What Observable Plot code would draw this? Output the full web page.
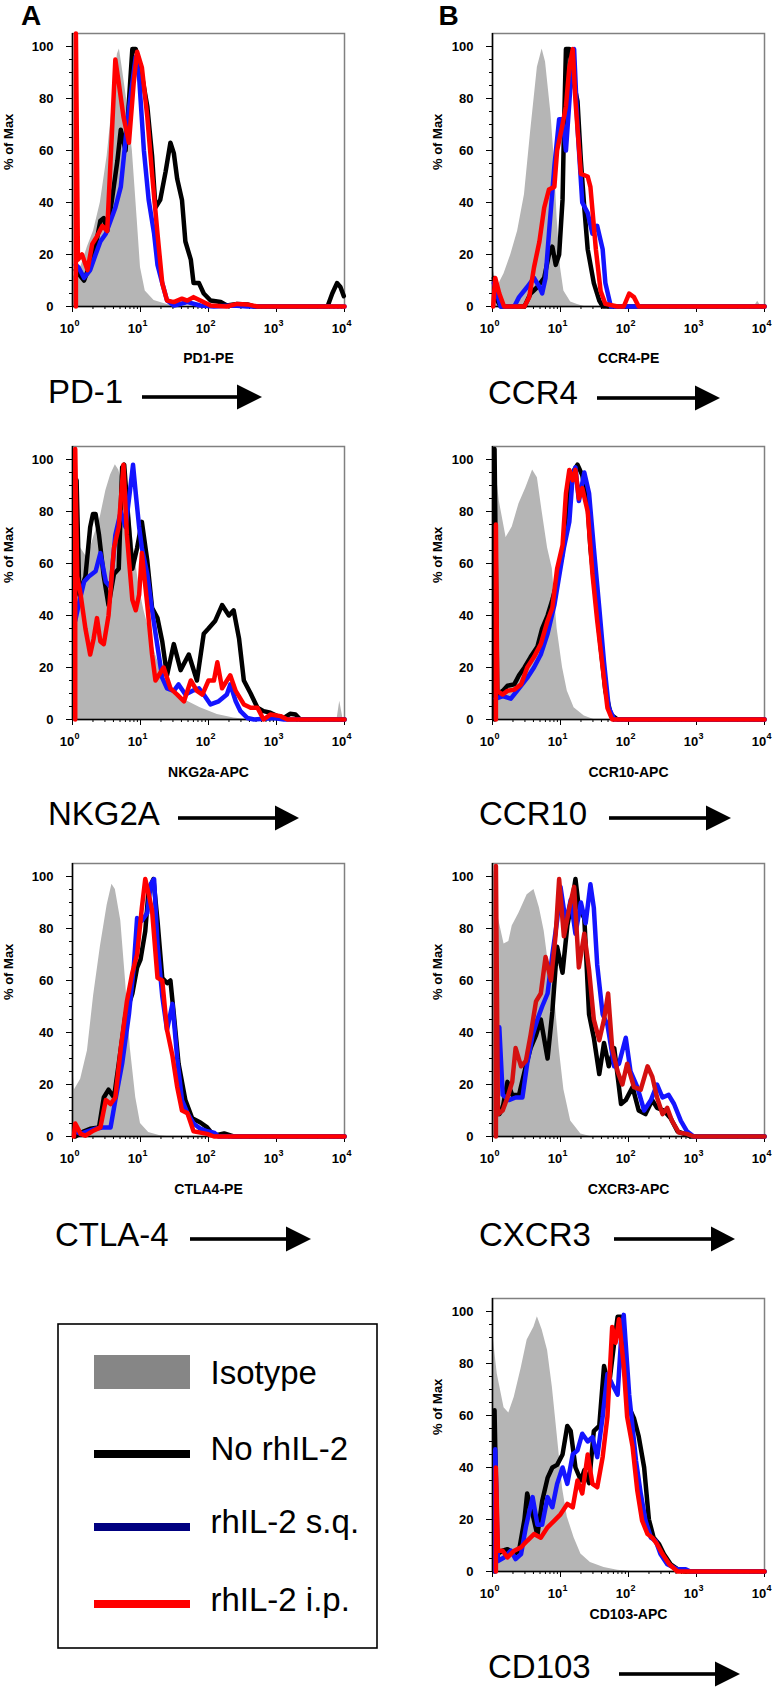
<!DOCTYPE html>
<html>
<head>
<meta charset="utf-8">
<script src="https://cdn.jsdelivr.net/npm/d3@7"></script>
<script src="https://cdn.jsdelivr.net/npm/@observablehq/plot@0.6"></script>
<style>
  html, body { margin: 0; padding: 0; background: #fff; }
  #fig { position: relative; width: 774px; height: 1687px; overflow: hidden; background: #fff; }
</style>
</head>
<body>
<div id="fig"></div>
<script>
// ---------------- DATA: [log10 fluorescence intensity, % of Max] ----------------
const seriesNames = ["Isotype", "No rhIL-2", "rhIL-2 s.q.", "rhIL-2 i.p."];
const markers = ["PD-1", "CCR4", "NKG2A", "CCR10", "CTLA-4", "CXCR3", "CD103"];
const channels = ["PD1-PE", "CCR4-PE", "NKG2a-APC", "CCR10-APC", "CTLA4-PE", "CXCR3-APC", "CD103-APC"];
const xTickExponents = [0, 1, 2, 3, 4];
const yTickValues = [0, 20, 40, 60, 80, 100];

// PD-1
const pd1Isotype = [[0,11],[0.12,15],[0.22,23],[0.31,29],[0.41,40],[0.51,58],[0.58,76],[0.66,97],[0.69,99],[0.73,92],[0.80,79],[0.88,60],[0.95,34],[1.0,15],[1.07,6],[1.2,2.3],[1.39,0.8],[1.59,0],[4,0]];
const pd1NoIL2 = [[0.05,14],[0.09,12.6],[0.17,10],[0.24,15],[0.31,19],[0.41,33],[0.46,34],[0.51,29],[0.58,41],[0.66,56],[0.71,68],[0.78,60],[0.83,79],[0.88,99],[0.93,99],[1.0,92],[1.1,77],[1.17,58],[1.22,38],[1.29,41],[1.37,52],[1.44,63],[1.49,59],[1.54,49],[1.61,41],[1.66,25],[1.74,18],[1.78,9],[1.86,9],[1.93,5],[2.03,2.3],[2.18,1.7],[2.27,0.4],[2.42,1],[2.57,0.8],[2.67,0],[3.75,0],[3.82,5],[3.89,9],[3.94,7.5],[3.99,4]];
const pd1SQ = [[0.05,16],[0.09,15],[0.17,11],[0.26,14],[0.34,20],[0.41,25],[0.49,28],[0.56,33],[0.63,38],[0.71,46],[0.78,64],[0.83,76],[0.88,86],[0.93,96],[0.98,88],[1.05,60],[1.12,41],[1.2,28],[1.25,16],[1.32,9],[1.39,2.3],[1.49,0.4],[1.69,1.7],[1.88,0.4],[2.08,0],[2.37,0.4],[2.57,0],[4,0]];
const pd1IP = [[0.05,0],[0.05,105],[0.08,18],[0.14,20],[0.22,14],[0.29,24],[0.36,27],[0.44,31],[0.51,29],[0.58,67],[0.63,95],[0.68,86],[0.75,73],[0.83,63],[0.9,86],[0.95,98],[1.02,92],[1.1,73],[1.17,51],[1.25,28],[1.32,9],[1.39,2.3],[1.49,1.7],[1.61,3],[1.69,2.3],[1.78,3.6],[1.88,2.3],[2.03,0.4],[2.27,0],[2.42,1],[2.57,0.8],[2.72,0],[4,0]];

// CCR4
const ccr4Isotype = [[0,15],[0.03,12],[0.07,7.5],[0.17,12.6],[0.27,20],[0.37,29],[0.47,43],[0.56,67],[0.66,92],[0.73,99],[0.78,94],[0.86,74],[0.91,56],[0.95,34],[1.0,15],[1.05,6],[1.15,1.7],[1.25,0.8],[1.35,0],[3.85,0],[3.9,2],[3.95,0],[4,0]];
const ccr4NoIL2 = [[0.02,11],[0.07,2.3],[0.12,0],[0.47,0],[0.56,5],[0.66,7.5],[0.76,11],[0.83,20],[0.88,23],[0.93,16],[0.98,20],[1.03,41],[1.05,67],[1.08,99],[1.13,99],[1.18,88],[1.25,79],[1.3,56],[1.35,38],[1.4,22],[1.49,9],[1.57,2.3],[1.62,0],[4,0]];
const ccr4SQ = [[0.02,9],[0.12,0],[0.32,0],[0.39,3.6],[0.51,7.5],[0.61,11],[0.69,7.5],[0.73,5],[0.78,11],[0.83,28],[0.91,54],[0.98,72],[1.03,72],[1.08,60],[1.15,86],[1.2,99],[1.25,69],[1.32,40],[1.4,36],[1.47,28],[1.54,31],[1.62,22],[1.66,9],[1.74,0],[4,0]];
const ccr4IP = [[0.01,0],[0.04,11],[0.1,5],[0.17,0],[0.47,0],[0.54,3.6],[0.61,15],[0.69,25],[0.76,38],[0.83,45],[0.91,46],[0.95,60],[1.03,70],[1.08,77],[1.13,92],[1.18,99],[1.22,79],[1.3,51],[1.4,50],[1.44,46],[1.52,22],[1.59,6],[1.66,1],[1.84,0],[1.93,0],[2.01,5],[2.08,3.6],[2.15,0],[4,0]];

// NKG2A
const nkg2aIsotype = [[0,74],[0.12,66],[0.22,62],[0.31,70],[0.41,78],[0.49,88],[0.56,94],[0.63,98],[0.68,96],[0.75,89],[0.83,84],[0.9,66],[0.98,51],[1.05,42],[1.12,35],[1.22,25],[1.34,16],[1.49,11],[1.69,7],[1.88,4.5],[2.13,1.9],[2.37,0.6],[2.57,0],[3.89,0],[3.93,7],[3.98,0],[4,0]];
const nkg2aNoIL2 = [[0.06,92],[0.1,48],[0.19,55],[0.26,74],[0.3,79],[0.34,79],[0.39,71],[0.46,55],[0.53,44],[0.61,56],[0.68,58],[0.73,97],[0.76,98],[0.8,84],[0.88,58],[0.95,66],[1.02,76],[1.1,61],[1.17,43],[1.25,39],[1.32,30],[1.39,17],[1.49,29],[1.59,19],[1.71,25],[1.83,15],[1.93,33],[2.0,35],[2.1,38],[2.2,44],[2.3,40],[2.37,42],[2.45,31],[2.52,15],[2.62,10],[2.72,4.5],[2.81,3.2],[2.91,2.6],[3.01,1.3],[3.11,0.6],[3.2,2.2],[3.28,1.9],[3.35,0],[4,0]];
const nkg2aSQ = [[0.04,38],[0.09,44],[0.17,53],[0.24,55],[0.34,57],[0.41,64],[0.49,53],[0.56,51],[0.63,71],[0.71,80],[0.78,74],[0.85,89],[0.89,98],[0.93,87],[0.98,74],[1.02,66],[1.1,56],[1.17,42],[1.25,28],[1.32,16],[1.39,12],[1.49,11],[1.56,13.5],[1.66,9.6],[1.76,11],[1.86,12],[1.93,9.6],[2.03,5.8],[2.15,7],[2.27,9.6],[2.32,13.5],[2.4,7],[2.47,3.2],[2.57,0.6],[2.67,0],[2.96,0.6],[3.11,0],[4,0]];
const nkg2aIP = [[0.04,0],[0.04,104],[0.07,55],[0.12,48],[0.19,35],[0.26,25],[0.31,31],[0.36,39],[0.41,30],[0.46,29],[0.53,40],[0.61,66],[0.68,74],[0.75,98],[0.8,71],[0.88,46],[0.93,42],[0.98,48],[1.02,64],[1.1,44],[1.17,25],[1.22,15],[1.34,20],[1.44,12],[1.54,9.6],[1.64,7],[1.74,15],[1.83,11],[1.91,9.6],[2.0,15],[2.08,15],[2.13,22],[2.2,12],[2.32,17],[2.4,11],[2.52,5.8],[2.62,4.5],[2.72,4.5],[2.81,0],[2.91,1.9],[3.06,1.3],[3.16,0],[4,0]];

// CCR10
const ccr10Isotype = [[0,103],[0.02,103],[0.1,84],[0.2,70],[0.29,74],[0.39,83],[0.49,89],[0.59,96],[0.66,93],[0.73,80],[0.81,66],[0.88,58],[0.95,35],[1.03,20],[1.1,11],[1.2,4.5],[1.35,1.3],[1.49,0],[4,0]];
const ccr10NoIL2 = [[0.03,0],[0.03,104],[0.07,9.6],[0.15,11],[0.22,13],[0.32,13.5],[0.39,17],[0.47,20],[0.56,24],[0.66,28],[0.73,35],[0.81,40],[0.88,46],[0.95,53],[1.03,64],[1.1,84],[1.18,95],[1.25,98],[1.32,94],[1.4,82],[1.44,66],[1.52,46],[1.59,28],[1.66,11],[1.74,1.9],[1.84,0],[4,0]];
const ccr10SQ = [[0.05,8],[0.15,9],[0.27,8],[0.39,12],[0.51,16],[0.61,20],[0.71,25],[0.81,33],[0.91,44],[0.98,55],[1.05,66],[1.13,76],[1.18,94],[1.22,97],[1.27,84],[1.35,95],[1.42,87],[1.49,66],[1.57,43],[1.64,22],[1.71,4.5],[1.79,0],[4,0]];
const ccr10IP = [[0.05,0],[0.05,75],[0.07,11],[0.15,9.6],[0.22,11],[0.32,11.5],[0.42,13.5],[0.51,20],[0.61,24],[0.71,29],[0.81,38],[0.88,43],[0.95,58],[1.03,67],[1.08,87],[1.13,96],[1.18,92],[1.22,96],[1.27,85],[1.32,89],[1.4,80],[1.47,56],[1.54,38],[1.62,20],[1.69,4.5],[1.76,0],[4,0]];

// CTLA-4
const ctla4Isotype = [[0,28],[0.03,18],[0.12,22],[0.22,33],[0.31,54],[0.41,73],[0.51,89],[0.58,97],[0.63,95],[0.71,83],[0.78,60],[0.85,34],[0.93,15],[1.0,5],[1.12,1.5],[1.29,0.3],[1.39,0],[4,0]];
const ctla4NoIL2 = [[0.04,0],[0.17,2],[0.26,3],[0.39,3.5],[0.46,15],[0.53,18],[0.61,15],[0.68,28],[0.78,47],[0.88,55],[0.95,65],[1.0,68],[1.07,79],[1.12,95],[1.19,99],[1.25,83],[1.32,61],[1.39,59],[1.44,60],[1.49,47],[1.56,28],[1.66,14],[1.76,7],[1.88,5.4],[1.98,3.5],[2.08,0.3],[2.23,1.2],[2.37,0],[4,0]];
const ctla4SQ = [[0.04,2],[0.12,1],[0.22,2],[0.34,3],[0.46,3.5],[0.56,3.5],[0.63,14],[0.73,28],[0.83,47],[0.9,65],[0.95,84],[1.02,83],[1.1,86],[1.15,97],[1.2,99],[1.25,74],[1.32,54],[1.39,41],[1.47,51],[1.54,30],[1.61,14],[1.69,9],[1.78,5],[1.88,3],[1.98,2],[2.08,1.5],[2.15,0],[4,0]];
const ctla4IP = [[0.02,0],[0.04,5],[0.12,1],[0.19,0.3],[0.29,2],[0.41,3.5],[0.49,14],[0.56,12.5],[0.63,15],[0.71,34],[0.8,52],[0.88,63],[0.95,70],[1.02,88],[1.07,99],[1.13,92],[1.17,87],[1.25,61],[1.32,60],[1.39,41],[1.47,31],[1.54,19],[1.61,10],[1.69,9],[1.78,2],[1.88,1.5],[1.98,1],[2.08,0],[4,0]];

// CXCR3
const cxcr3Isotype = [[0,102],[0.02,102],[0.07,86],[0.17,74],[0.24,75],[0.29,81],[0.39,86],[0.51,93],[0.61,95],[0.69,88],[0.76,79],[0.83,65],[0.91,55],[0.98,34],[1.05,18],[1.15,6],[1.3,1],[1.44,0],[4,0]];
const cxcr3NoIL2 = [[0.08,12],[0.1,8.6],[0.15,11],[0.22,21],[0.29,16],[0.39,16],[0.49,27],[0.56,34],[0.64,39],[0.71,45],[0.81,30],[0.88,48],[0.95,73],[1.03,63],[1.1,81],[1.18,92],[1.22,99],[1.27,88],[1.35,84],[1.42,47],[1.49,38],[1.57,24],[1.64,36],[1.71,27],[1.79,34],[1.89,12.5],[1.96,14],[2.06,19],[2.15,10],[2.25,8.6],[2.35,14],[2.42,11],[2.52,10],[2.62,7],[2.72,2],[2.82,1],[2.91,0],[4,0]];
const cxcr3SQ = [[0.1,42],[0.15,16],[0.24,14],[0.34,15],[0.44,15],[0.51,28],[0.59,39],[0.66,45],[0.73,50],[0.81,55],[0.88,70],[0.95,83],[1.0,96],[1.08,82],[1.15,91],[1.22,78],[1.3,90],[1.37,82],[1.44,97],[1.49,88],[1.54,66],[1.62,47],[1.69,43],[1.79,27],[1.86,28],[1.96,38],[2.03,25],[2.13,19],[2.23,10],[2.33,14],[2.42,20],[2.5,15],[2.59,16],[2.67,12.5],[2.77,6],[2.86,2],[2.96,0],[4,0]];
const cxcr3IP = [[0.05,0],[0.05,104],[0.08,8.6],[0.15,10],[0.22,15],[0.29,21],[0.34,34],[0.42,27],[0.49,29],[0.56,39],[0.64,52],[0.71,55],[0.78,69],[0.86,60],[0.93,78],[0.98,99],[1.05,77],[1.13,88],[1.2,96],[1.27,65],[1.35,78],[1.42,64],[1.49,45],[1.57,37],[1.64,45],[1.7,55],[1.76,34],[1.84,25],[1.91,20],[1.98,28],[2.08,19],[2.18,18],[2.28,27],[2.35,23],[2.42,15],[2.5,8.6],[2.57,11],[2.64,6],[2.74,1.5],[2.86,1],[2.96,0],[4,0]];

// CD103
const cd103Isotype = [[0,90],[0.01,90],[0.07,76],[0.17,63],[0.24,61],[0.32,67],[0.42,78],[0.51,89],[0.61,94],[0.66,98],[0.73,93],[0.81,85],[0.88,71],[0.95,53],[1.03,32],[1.1,21],[1.2,13],[1.3,6.7],[1.44,3.5],[1.64,1.5],[1.84,0.5],[2.03,0],[4,0]];
const cd103NoIL2 = [[0.03,0],[0.03,62],[0.07,6.7],[0.15,8],[0.22,8.6],[0.32,6.7],[0.39,8],[0.47,20],[0.51,30],[0.59,22],[0.66,14],[0.73,27],[0.81,36],[0.88,40],[0.95,41],[1.03,45],[1.1,56],[1.15,54],[1.22,40],[1.3,35],[1.35,39],[1.42,34],[1.49,54],[1.57,56],[1.64,79],[1.71,71],[1.79,88],[1.84,98],[1.89,98],[1.93,79],[2.01,63],[2.08,59],[2.15,52],[2.23,40],[2.3,20],[2.37,13],[2.45,10.5],[2.52,6.7],[2.62,2.8],[2.72,0.9],[2.82,0],[4,0]];
const cd103SQ = [[0.04,0],[0.04,47],[0.08,4],[0.17,5.4],[0.27,8],[0.34,4.8],[0.42,6.7],[0.49,17],[0.59,28.6],[0.66,18],[0.73,18],[0.81,28.6],[0.88,24.7],[0.95,33.7],[1.03,40],[1.1,33.7],[1.18,45],[1.25,46.6],[1.32,53],[1.4,50],[1.47,51.7],[1.54,44],[1.62,59.5],[1.69,76],[1.76,72],[1.84,68],[1.89,89],[1.93,98.7],[2.01,68],[2.11,42.7],[2.18,30],[2.25,19.6],[2.33,13],[2.4,11.8],[2.47,6.7],[2.57,2.8],[2.72,0.9],[2.84,0.9],[2.91,0],[4,0]];
const cd103IP = [[0.05,0],[0.05,40],[0.08,8],[0.15,8],[0.22,5.4],[0.32,8],[0.42,9.3],[0.51,11.8],[0.61,14.4],[0.71,13],[0.81,17],[0.91,19.6],[1.0,22],[1.1,26],[1.18,24.7],[1.25,35],[1.32,30],[1.4,45],[1.47,33.7],[1.54,32.4],[1.62,44],[1.69,59.5],[1.76,94],[1.81,88],[1.86,97],[1.93,79],[1.98,59.5],[2.06,48],[2.13,31],[2.2,19.6],[2.28,14.4],[2.35,13],[2.42,10.5],[2.5,6.7],[2.6,2.8],[2.72,0],[4,0]];

// ---------------- STYLE / LAYOUT ----------------
const FONT = "'Liberation Sans', Arial, Helvetica, sans-serif";
const isoFill = "#b5b5b5";
const lineColors = ["#000000", "#1414ff", "#ff0000"];
const legendColors = ["#868686", "#000000", "#000080", "#ff0000"];

const panelSeries = [
  [pd1Isotype, pd1NoIL2, pd1SQ, pd1IP],
  [ccr4Isotype, ccr4NoIL2, ccr4SQ, ccr4IP],
  [nkg2aIsotype, nkg2aNoIL2, nkg2aSQ, nkg2aIP],
  [ccr10Isotype, ccr10NoIL2, ccr10SQ, ccr10IP],
  [ctla4Isotype, ctla4NoIL2, ctla4SQ, ctla4IP],
  [cxcr3Isotype, cxcr3NoIL2, cxcr3SQ, cxcr3IP],
  [cd103Isotype, cd103NoIL2, cd103SQ, cd103IP]
];
const panelLayout = [
  {col: 0, top: 33,   xlab: 56, mark: {x: 48,  y: 403,  arrow: [142, 237, 262, 397]}},
  {col: 1, top: 33,   xlab: 56, mark: {x: 488, y: 404,  arrow: [597, 695, 720, 398]}},
  {col: 0, top: 446,  xlab: 57, mark: {x: 48,  y: 825,  arrow: [178, 275, 299, 818]}},
  {col: 1, top: 446,  xlab: 57, mark: {x: 479, y: 825,  arrow: [609, 706, 731, 818]}},
  {col: 0, top: 863,  xlab: 57, mark: {x: 55,  y: 1246, arrow: [190, 286, 311, 1239]}},
  {col: 1, top: 863,  xlab: 57, mark: {x: 479, y: 1246, arrow: [614, 711, 735, 1239]}},
  {col: 1, top: 1298, xlab: 47, mark: {x: 488, y: 1678, arrow: [619, 715, 740, 1674]}}
];
const redOverride = {5: "#d41010"};

const fig = document.getElementById("fig");
const sup = {0: "0", 1: "1", 2: "2", 3: "3", 4: "4"};
const majorX = xTickExponents.map(e => 10 ** e);
const minorX = d3.range(0, 4).flatMap(e => d3.range(2, 10).map(k => k * 10 ** e));
const minorY = d3.range(0, 101, 5);
const PH = 273, MT = 12, MB = 62;
const LW = 4.5;
const lx = d => 10 ** d[0];
const ly = d => d[1];

panelSeries.forEach((series, i) => {
  const L = panelLayout[i];
  const left = L.col === 0 ? 0 : 390;
  const W = L.col === 0 ? 390 : 384;
  const ml = L.col === 0 ? 72 : 102;
  const mr = L.col === 0 ? 46 : 10;
  const ylabDx = L.col === 0 ? -64 : -55;
  const colors = lineColors.slice();
  if (redOverride[i]) colors[2] = redOverride[i];
  const [iso, noIL2, sq, ip] = series;
  const svg = Plot.plot({
    width: W, height: MT + PH + MB,
    marginLeft: ml, marginRight: mr, marginTop: MT, marginBottom: MB,
    x: {type: "log", domain: [1, 1e4]},
    y: {domain: [0, 105]},
    style: {fontFamily: FONT, background: "transparent", overflow: "visible", color: "#000"},
    marks: [
      Plot.areaY(iso, {x: lx, y: ly, fill: isoFill, curve: "linear"}),
      Plot.frame({stroke: "#808080", strokeWidth: 1.5}),
      Plot.ruleY([0], {stroke: "#000", strokeWidth: 1.5}),
      Plot.ruleX([1], {stroke: "#000", strokeWidth: 1.5}),
      Plot.axisY({ticks: minorY, tickSize: 3, fill: "none", label: null, stroke: "#000"}),
      Plot.axisY({ticks: yTickValues, tickSize: 6, tickPadding: 13, fontSize: 13, fontWeight: "bold", label: null, stroke: "#000", fill: "#000"}),
      Plot.axisX({ticks: minorX, tickSize: 3, fill: "none", label: null, stroke: "#000"}),
      Plot.axisX({ticks: majorX, tickSize: 6, fill: "none", label: null, stroke: "#000"}),
      Plot.text(majorX, {x: d => d, text: () => "10", frameAnchor: "bottom", dy: 26, dx: -5.5, fontSize: 13, fontWeight: "bold", fill: "#000"}),
      Plot.text(majorX, {x: d => d, text: d => sup[Math.round(Math.log10(d))], frameAnchor: "bottom", dy: 19, dx: 4.5, fontSize: 9, fontWeight: "bold", fill: "#000"}),
      Plot.line(noIL2, {x: lx, y: ly, stroke: colors[0], strokeWidth: LW, strokeLinejoin: "round"}),
      Plot.line(sq, {x: lx, y: ly, stroke: colors[1], strokeWidth: LW, strokeLinejoin: "round"}),
      Plot.line(ip, {x: lx, y: ly, stroke: colors[2], strokeWidth: LW, strokeLinejoin: "round"}),
      Plot.text([channels[i]], {frameAnchor: "bottom", dy: L.xlab, fontSize: 14, fontWeight: "bold", fill: "#000"}),
      Plot.text(["% of Max"], {frameAnchor: "left", dx: ylabDx, rotate: -90, fontSize: 13, fontWeight: "bold", fill: "#000"})
    ]
  });
  svg.style.position = "absolute";
  svg.style.left = left + "px";
  svg.style.top = (L.top - MT) + "px";
  svg.style.maxWidth = "none";
  fig.appendChild(svg);
});

// ---------------- Annotations: panel letters, marker names, arrows, legend ----------------
const ov = d3.create("svg")
  .attr("width", 774).attr("height", 1687)
  .style("position", "absolute").style("left", "0px").style("top", "0px")
  .style("pointer-events", "none")
  .attr("font-family", FONT);

ov.append("text").attr("x", 21).attr("y", 25).attr("font-size", 28).attr("font-weight", "bold").text("A");
ov.append("text").attr("x", 438.5).attr("y", 25).attr("font-size", 28).attr("font-weight", "bold").text("B");

panelLayout.forEach((L, i) => {
  ov.append("text").attr("x", L.mark.x).attr("y", L.mark.y).attr("font-size", 33).text(markers[i]);
  const [x0, x1, x2, cy] = L.mark.arrow;
  ov.append("rect").attr("x", x0).attr("y", cy - 1.8).attr("width", x1 - x0 + 1).attr("height", 3.6).attr("fill", "#000");
  ov.append("path").attr("d", `M${x1},${cy - 12.5}L${x2},${cy}L${x1},${cy + 12.5}Z`).attr("fill", "#000");
});

// legend
const lg = ov.append("g");
lg.append("rect").attr("x", 58).attr("y", 1324).attr("width", 319).attr("height", 324)
  .attr("fill", "none").attr("stroke", "#000").attr("stroke-width", 1.6);
const legendRows = [1372, 1454, 1527, 1604];
const legendBaselines = [1384, 1460, 1533, 1611];
seriesNames.forEach((name, k) => {
  if (k === 0) {
    lg.append("rect").attr("x", 94).attr("y", legendRows[0] - 17).attr("width", 96).attr("height", 34).attr("fill", legendColors[0]);
  } else {
    lg.append("rect").attr("x", 94).attr("y", legendRows[k] - 4).attr("width", 96).attr("height", 8).attr("fill", legendColors[k]);
  }
  lg.append("text").attr("x", 210.5).attr("y", legendBaselines[k]).attr("font-size", 33).text(name);
});

fig.appendChild(ov.node());
</script>
</body>
</html>
